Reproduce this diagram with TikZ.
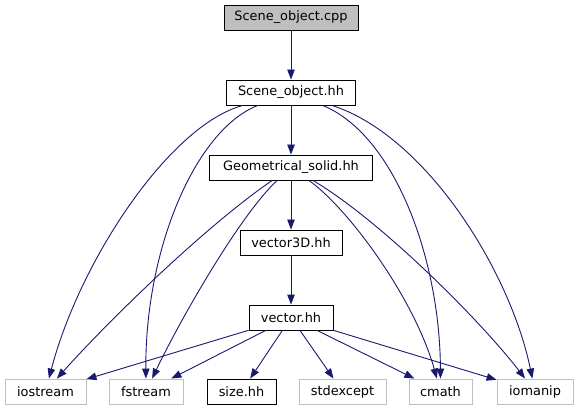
\documentclass[tikz,border=0pt]{standalone}
\usepackage{fontspec}
\setmainfont{DejaVu Sans}
\usetikzlibrary{arrows.meta}
\usepackage{xcolor}
\definecolor{edgeblue}{HTML}{191970}
\definecolor{sysgray}{HTML}{BFBFBF}

\tikzset{
  file/.style={draw=black, rectangle, minimum height=25pt, inner xsep=4pt, inner ysep=0pt, line width=0.9pt},
  sys/.style={file, draw=sysgray},
  dep/.style={draw=edgeblue, line width=0.9pt, -{Triangle[length=10pt,width=7.5pt]}},
}

\begin{document}
\begin{tikzpicture}[x=1pt, y=1pt, node distance=75pt, font=\fontsize{12.9}{14}\selectfont]
        \useasboundingbox (0,0) rectangle (577,-411);
        \node (cpp) [file, fill=sysgray, minimum width=134pt] at (291,-17.5) {Scene\_object.cpp};
        \node (sohh) [file, below of=cpp, minimum width=129pt] {Scene\_object.hh};
        \node (geo) [file, below of=sohh, minimum width=163pt] {Geometrical\_solid.hh};
        \node (v3d) [file, below of=geo, minimum width=102pt] {vector3D.hh};
        \node (vec) [file, below of=v3d, minimum width=84pt] {vector.hh};

        % system and local headers, bottom row
        \node (ios) [sys, minimum width=81pt] at (45.5,-391.5) {iostream};
        \node (fst) [sys, minimum width=74pt] at (146,-391.5) {fstream};
        \node (size) [file, minimum width=69pt] at (241.5,-391.5) {size.hh};
        \node (exc) [sys, minimum width=87pt] at (342.5,-391.5) {stdexcept};
        \node (cmath) [sys, minimum width=63pt] at (440.5,-391.5) {cmath};
        \node (iom) [sys, minimum width=76pt] at (535,-391.5) {iomanip};

        \draw[dep] (cpp) -- (sohh);
        \draw[dep] (sohh) -- (geo);
        \draw[dep] (geo) -- (v3d);
        \draw[dep] (v3d) -- (vec);

        \draw[dep] (sohh) .. controls (170,-125) and (80,-260) .. (ios);
        \draw[dep] (sohh) .. controls (195,-130) and (145,-250) .. (fst);
        \draw[dep] (sohh) .. controls (395,-135) and (440,-260) .. (cmath);
        \draw[dep] (sohh) .. controls (425,-135) and (510,-270) .. (iom);

        \draw[dep] (geo) .. controls (200,-230) and (100,-330) .. (ios);
        \draw[dep] (geo) .. controls (240,-215) and (180,-320) .. (fst);
        \draw[dep] (geo) .. controls (350,-210) and (415,-300) .. (cmath);
        \draw[dep] (geo) .. controls (380,-220) and (480,-320) .. (iom);

        \draw[dep] (vec) -- (ios);
        \draw[dep] (vec) -- (fst);
        \draw[dep] (vec) -- (size);
        \draw[dep] (vec) -- (exc);
        \draw[dep] (vec) -- (cmath);
        \draw[dep] (vec) -- (iom);
    \end{tikzpicture}
\end{document}
